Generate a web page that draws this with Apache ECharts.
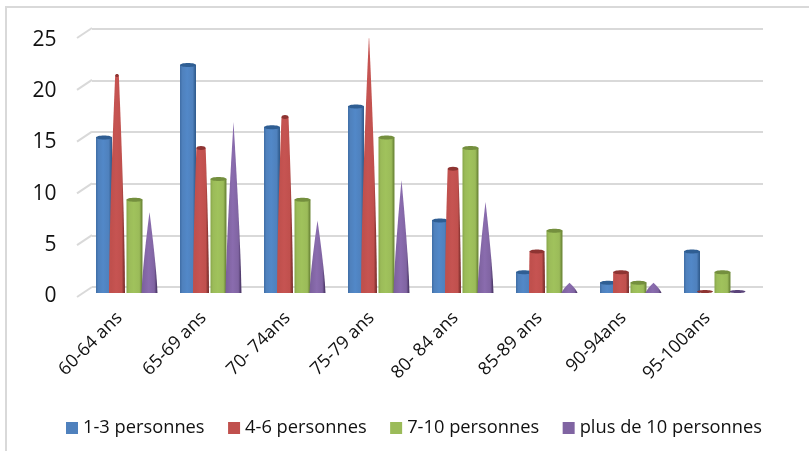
<!DOCTYPE html>
<html><head><meta charset="utf-8">
<style>
html,body{margin:0;padding:0;background:#fff;}
#frame{position:absolute;left:5px;top:6px;width:804px;height:445px;border-left:2px solid #d9d9d9;border-top:2px solid #d9d9d9;box-sizing:border-box;}
#c{position:absolute;left:0;top:0;width:809px;height:451px;}
</style>
<script src="https://cdn.jsdelivr.net/npm/echarts@6/dist/echarts.min.js"></script>
</head><body><div id="frame"></div><div id="c"></div>
<script>
const categories = ['60-64 ans','65-69 ans','70- 74ans','75-79 ans','80- 84 ans','85-89 ans','90-94ans','95-100ans'];
const s13 = [15,22,16,18,7,2,1,4];
const s46 = [21,14,17,24.6,12,4,2,0];
const s710 = [9,11,9,15,14,6,1,2];
const s10p = [7.8,16.5,7,10.9,8.8,1,1,0];
const ticks = [0,5,10,15,20,25];
const names = ['1-3 personnes','4-6 personnes','7-10 personnes','plus de 10 personnes'];
const palette = [
 {base:'#4F81BD',light:'#5288C8',dark:'#335F92',edge:'#3F6DA5',cap:'#2F5E93'},
 {base:'#C0504D',light:'#C65452',dark:'#7E2F2D',edge:'#C0504D',cap:'#8E3432'},
 {base:'#9BBB59',light:'#A0C25C',dark:'#6F8A3A',edge:'#86A548',cap:'#748F3E'},
 {base:'#8064A2',light:'#8A6CAE',dark:'#4F3A6B',edge:'#7A5E9B',cap:'#5A4379'}
];
const offsets = [-22.5,-9.5,8,23];
const W = 16;
// shape: 0 = cylinder, 1 = tapering to a point at the axis max, 2 = cone with its own tip
const shapes = [0,1,0,2];
const AXIS_MAX = 25;

function grad(p){
  return {type:'linear',x:0,y:0,x2:1,y2:0,colorStops:[
    {offset:0,color:p.edge},{offset:0.15,color:p.base},{offset:0.45,color:p.light},
    {offset:0.8,color:p.base},{offset:0.95,color:p.dark},{offset:1,color:p.dark}]};
}
function widthAt(si,h,v){
  if(shapes[si]===1) return W*(1-Math.pow(h/AXIS_MAX,1.5));
  if(shapes[si]===2) return W*(1-Math.pow(h/v,1.3));
  return W;
}
function renderer(si){
  return function(params,api){
    const idx=api.value(0), v=api.value(1);
    const top=api.coord([idx,v]), bot=api.coord([idx,0]);
    const cx=top[0]+offsets[si], p=palette[si];
    const kids=[];
    if(v<=0){
      kids.push({type:'ellipse',shape:{cx:cx,cy:bot[1]-1.5,rx:W/2,ry:1.6},style:{fill:p.cap}});
    } else {
      const tw=widthAt(si,v,v);
      const left=[],right=[];
      for(let k=0;k<=8;k++){
        const h=v*k/8, w=widthAt(si,h,v), y=bot[1]+(top[1]-bot[1])*k/8;
        left.push([cx-w/2,y]); right.unshift([cx+w/2,y]);
      }
      kids.push({type:'polygon',shape:{points:left.concat(right)},style:{fill:grad(p)}});
      if(tw>1) kids.push({type:'ellipse',shape:{cx:cx,cy:top[1],rx:tw/2,ry:Math.min(2,tw/4+0.6)},style:{fill:p.cap}});
    }
    return {type:'group',children:kids};
  };
}
const lists=[s13,s46,s710,s10p];
const series=names.map((n,i)=>({
  name:n,type:'custom',xAxisIndex:0,yAxisIndex:0,clip:false,z:3+i,
  itemStyle:{color:palette[i].base},
  encode:{x:0,y:1},
  renderItem:renderer(i),
  data:lists[i].map((v,k)=>[k,v])
}));
series.unshift({
  type:'custom',name:'stubs',xAxisIndex:0,yAxisIndex:0,clip:false,silent:true,z:1,
  encode:{y:1},
  renderItem:function(params,api){
    const c=api.coord([0,api.value(1)]);
    const x=c[0]-api.size([1,0])[0]/2;
    return {type:'line',shape:{x1:x-7.5,y1:c[1]+4,x2:x+7.5,y2:c[1]-6},style:{stroke:'#d9d9d9',lineWidth:2}};
  },
  data:ticks.map(t=>[0,t])
});
const chart=echarts.init(document.getElementById('c'),null,{renderer:'canvas'});
const font='"Open Sans","Noto Sans",sans-serif';
chart.setOption({
  animation:false,backgroundColor:'transparent',
  legend:{data:names,left:61,top:414,icon:'rect',itemWidth:12,itemHeight:12,itemGap:23.5,
    textStyle:{fontFamily:font,fontSize:18.3,color:'#111'}},
  grid:[
    {left:84.5,right:52.5,top:34,bottom:158},
    {left:92,right:46,top:29,bottom:164},
    {left:84.5,right:52.5,top:40,bottom:155}
  ],
  xAxis:[
    {type:'category',gridIndex:0,data:categories,axisLine:{show:false},axisTick:{show:false},
     axisLabel:{rotate:45,interval:0,margin:15,padding:[0,10,0,0],fontFamily:font,fontSize:18,color:'#111'}},
    {type:'category',gridIndex:1,data:categories,show:false},
    {type:'category',gridIndex:2,data:categories,show:false}
  ],
  yAxis:[
    {type:'value',gridIndex:0,min:0,max:25,interval:5,axisLine:{show:false},axisTick:{show:false},splitLine:{show:false},axisLabel:{show:false}},
    {type:'value',gridIndex:1,min:0,max:25,interval:5,axisLine:{show:false},axisTick:{show:false},axisLabel:{show:false},
     splitLine:{show:true,lineStyle:{color:'#d9d9d9',width:2}}},
    {type:'value',gridIndex:2,min:0,max:25,interval:5,axisLine:{show:false},axisTick:{show:false},splitLine:{show:false},
     axisLabel:{margin:28,fontFamily:font,fontSize:21,color:'#111'}}
  ],
  series:series
});
</script></body></html>
